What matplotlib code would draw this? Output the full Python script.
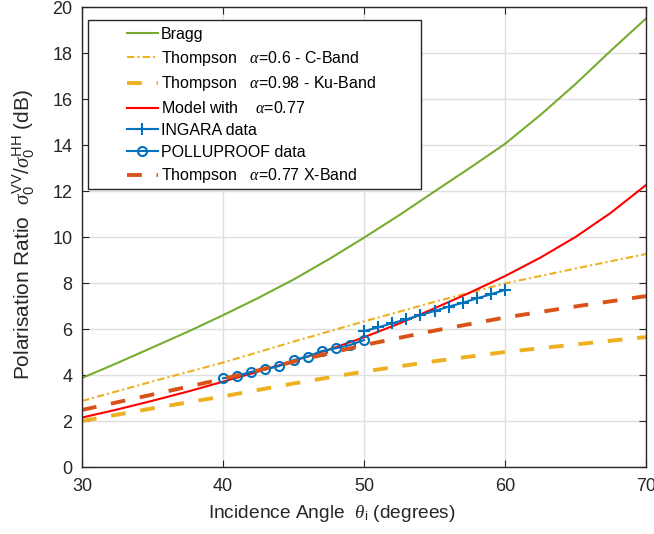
import matplotlib
matplotlib.use("Agg")
import matplotlib.pyplot as plt
from matplotlib.patches import Rectangle

plt.rcParams['font.family'] = ['Liberation Sans', 'DejaVu Sans']
plt.rcParams['mathtext.fontset'] = 'custom'
plt.rcParams['mathtext.rm'] = 'Liberation Sans'
plt.rcParams['mathtext.it'] = 'Liberation Serif:italic'

# incidence angles (degrees)
ang = [30, 35, 40, 45, 50, 55, 60, 65, 70]
ang_fine = [30, 32.5, 35, 37.5, 40, 42.5, 45, 47.5, 50, 52.5, 55, 57.5, 60, 62.5, 65, 67.5, 70]

bragg = [3.87, 4.52, 5.2, 5.88, 6.6, 7.35, 8.15, 9.03, 9.97, 10.95, 11.98, 13.0,
         14.05, 15.3, 16.65, 18.1, 19.5]
model = [2.15, 2.5, 2.88, 3.28, 3.71, 4.15, 4.61, 5.1, 5.64, 6.24, 6.9, 7.58,
         8.3, 9.1, 10.0, 11.05, 12.26]
thompson_c = [2.87, 3.72, 4.54, 5.45, 6.33, 7.18, 7.98, 8.63, 9.26]
thompson_ku = [2.0, 2.55, 3.07, 3.63, 4.15, 4.6, 5.0, 5.33, 5.65]
thompson_x = [2.48, 3.15, 3.83, 4.58, 5.30, 5.93, 6.5, 6.98, 7.43]

ingara_ang = [50, 51, 52, 53, 54, 55, 56, 57, 58, 59, 60]
ingara = [5.91, 6.07, 6.25, 6.42, 6.61, 6.78, 6.97, 7.14, 7.33, 7.51, 7.70]
pollu_ang = [40, 41, 42, 43, 44, 45, 46, 47, 48, 49, 50]
pollu = [3.86, 3.96, 4.14, 4.25, 4.39, 4.65, 4.80, 5.04, 5.16, 5.30, 5.52]

fig = plt.figure(figsize=(6.54, 5.34), dpi=100)
ax = fig.add_axes([82 / 654, 67 / 534, 564 / 654, 460 / 534])

ax.plot(ang_fine, bragg, color='#77AC30', lw=1.5, label='Bragg')
ax.plot(ang, thompson_c, color='#EDB120', lw=1.5, dashes=(3.5, 1.5, 1, 1.5),
        label=r'Thompson   $\alpha$=0.6 - C-Band')
ax.plot(ang, thompson_ku, color='#EDB120', lw=2.8, dashes=(3.8, 3.8),
        label=r'Thompson   $\alpha$=0.98 - Ku-Band')
ax.plot(ang_fine, model, color='#FF0000', lw=1.5, label=r'Model with    $\alpha$=0.77')
ax.plot(ingara_ang, ingara, color='#0072BD', lw=1.5, marker='+', ms=8, mew=1.5,
        label='INGARA data')
ax.plot(pollu_ang, pollu, color='#0072BD', lw=1.5, marker='o', ms=6.5, mew=1.5,
        mfc='none', label='POLLUPROOF data')
ax.plot(ang, thompson_x, color='#D95319', lw=2.8, dashes=(3.8, 3.8),
        label=r'Thompson   $\alpha$=0.77 X-Band')

ax.set_xlim(30, 70)
ax.set_ylim(0, 20)
ax.set_xticks([30, 40, 50, 60, 70])
ax.set_yticks(range(0, 21, 2))
ax.grid(True, color='#DFDFDF', lw=1)
ax.set_axisbelow(True)
ax.tick_params(direction='in', top=True, right=True, labelsize=13,
               colors='#262626', length=5)
ax.tick_params(axis='x', pad=8)
ax.tick_params(axis='y', pad=7)
for s in ax.spines.values():
    s.set_color('#262626')
    s.set_linewidth(1)

ax.set_xlabel(r'Incidence Angle  $\theta_\mathrm{i}$ (degrees)', fontsize=13.8,
              color='#262626')
ax.xaxis.set_label_coords(0.443, -0.078)
ax.set_ylabel(r'Polarisation Ratio  $\sigma_0^{\mathrm{VV}}/\sigma_0^{\mathrm{HH}}$ (dB)',
              fontsize=15, color='#262626')
ax.yaxis.set_label_coords(-0.08, 0.505)

# legend frame drawn separately (MATLAB-like wide box)
ax.add_patch(Rectangle((0.0106, 0.6043), 0.5904, 0.3674, transform=ax.transAxes,
                       facecolor='white', edgecolor='#262626', lw=1, zorder=4))
leg = ax.legend(loc='upper left', bbox_to_anchor=(0.079, 0.9565), frameon=False,
                fontsize=11.5, handlelength=1.95, handletextpad=0.2,
                labelspacing=0.42, borderpad=0, borderaxespad=0)
leg.set_zorder(5)

fig.savefig('out.png', dpi=100)
